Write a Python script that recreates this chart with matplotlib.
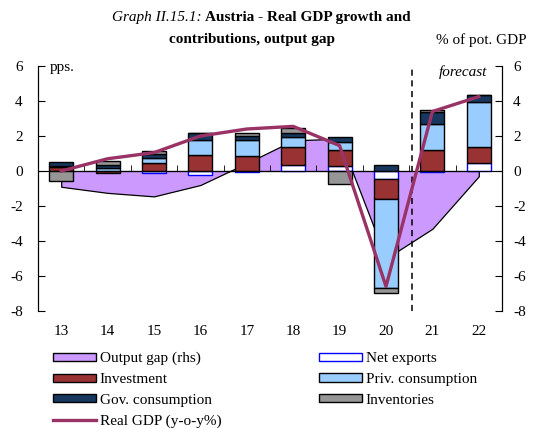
import numpy as np
import matplotlib
matplotlib.use('Agg')
import matplotlib.pyplot as plt
from matplotlib.patches import Patch
from matplotlib.lines import Line2D

plt.rcParams['font.family'] = ['Liberation Serif', 'DejaVu Serif']
plt.rcParams['axes.unicode_minus'] = False

# ============================================================
# data
# ============================================================
years = ['13', '14', '15', '16', '17', '18', '19', '20', '21', '22']
net_exports = [0.0, 0.0, -0.1, -0.25, -0.05, 0.35, 0.3, -0.45, -0.05, 0.47]
investment = [0.25, -0.1, 0.45, 0.9, 0.85, 1.0, 0.9, -1.15, 1.18, 0.88]
priv_cons = [0.05, 0.2, 0.3, 0.9, 0.95, 0.57, 0.47, -5.1, 1.48, 2.6]
gov_cons = [0.2, 0.15, 0.2, 0.35, 0.2, 0.25, 0.3, 0.35, 0.7, 0.42]
inventories = [-0.55, 0.25, 0.2, 0.05, 0.2, 0.3, -0.75, -0.25, 0.1, 0.0]
output_gap = [-0.9, -1.25, -1.45, -0.8, 0.45, 1.75, 1.85, -5.0, -3.3, -0.3]
real_gdp = [0.0, 0.7, 1.05, 2.0, 2.4, 2.55, 1.45, -6.6, 3.4, 4.25]

c_gap = '#CC99FF'
c_inv = '#993333'
c_gov = '#17375E'
c_priv = '#99CCFF'
c_invt = '#969696'
c_gdp = '#993366'

# ============================================================
# figure
# ============================================================
fig = plt.figure(figsize=(5.35, 4.28), dpi=100)
ax = fig.add_axes([38 / 535, 1 - 311 / 428, 464 / 535, 245 / 428])
x = np.arange(len(years))

# output gap area (rhs, same scale as lhs)
ax.fill_between(x, output_gap, 0, facecolor=c_gap, edgecolor='black',
                linewidth=0.9, zorder=1)

# stacked contributions
series = [
    (net_exports, 'white', 'blue'),
    (investment, c_inv, 'black'),
    (priv_cons, c_priv, 'black'),
    (gov_cons, c_gov, 'black'),
    (inventories, c_invt, 'black'),
]
pos = np.zeros(len(years))
neg = np.zeros(len(years))
for vals, fc, ec in series:
    vals = np.array(vals)
    bottom = np.where(vals >= 0, pos, neg)
    ax.bar(x, vals, bottom=bottom, width=0.52, color=fc, edgecolor=ec,
           linewidth=1.0, zorder=2)
    pos = pos + np.clip(vals, 0, None)
    neg = neg + np.clip(vals, None, 0)

ax.plot(x, real_gdp, color=c_gdp, linewidth=2.4, zorder=4)

# forecast separator
ax.axvline(7.55, color='black', linestyle=(0, (4, 3)), linewidth=1.1, zorder=3)

# axes styling
ax.set_xlim(-0.5, 9.5)
ax.set_ylim(-8, 6)
ax.set_yticks(range(-8, 7, 2))
ax.tick_params(axis='y', direction='in', length=5, pad=11, labelsize=11)
ax.spines['top'].set_visible(False)
ax.spines['bottom'].set_position(('data', 0))
ax.spines['bottom'].set_zorder(3)
ax.set_xticks(x)
ax.set_xticks(np.arange(-0.5, 9.6, 1), minor=True)
ax.tick_params(axis='x', which='major', length=0, labelbottom=False)
ax.tick_params(axis='x', which='minor', direction='in', length=4)

sec = ax.secondary_xaxis('bottom')
sec.set_xticks(x)
sec.set_xticklabels(years)
sec.tick_params(length=0, pad=10, labelsize=11)
sec.spines['bottom'].set_visible(False)

ax2 = ax.twinx()
ax2.set_ylim(-8, 6)
ax2.set_yticks(range(-8, 7, 2))
ax2.tick_params(axis='y', direction='in', length=5, pad=8, labelsize=11)
ax2.spines['top'].set_visible(False)
ax2.spines['bottom'].set_visible(False)

# texts
fig.text(202 / 535, 1 - 18 / 428, 'Graph II.15.1:', style='italic',
         ha='right', va='center', fontsize=11)
fig.text(205 / 535, 1 - 18 / 428, 'Austria - Real GDP growth and',
         weight='bold', ha='left', va='center', fontsize=11)
fig.text(252 / 535, 1 - 40 / 428, 'contributions, output gap',
         weight='bold', ha='center', va='center', fontsize=11)
fig.text(527 / 535, 1 - 40 / 428, '% of pot. GDP', ha='right', va='center',
         fontsize=11)
fig.text(50 / 535, 1 - 68 / 428, 'pps.', ha='left', va='center', fontsize=11)
fig.text(463 / 535, 1 - 72 / 428, 'forecast', style='italic', ha='center',
         va='center', fontsize=11)

# legend
handles = [
    Patch(facecolor=c_gap, edgecolor='black', linewidth=1.0),
    Patch(facecolor=c_inv, edgecolor='black', linewidth=1.0),
    Patch(facecolor=c_gov, edgecolor='black', linewidth=1.0),
    Line2D([], [], color=c_gdp, linewidth=2.4),
    Patch(facecolor='white', edgecolor='blue', linewidth=1.0),
    Patch(facecolor=c_priv, edgecolor='black', linewidth=1.0),
    Patch(facecolor=c_invt, edgecolor='black', linewidth=1.0),
]
labels = ['Output gap (rhs)', 'Investment', 'Gov. consumption',
          'Real GDP (y-o-y%)', 'Net exports', 'Priv. consumption',
          'Inventories']
fig.legend(handles, labels, ncol=2, loc='upper left',
           bbox_to_anchor=(53 / 535, 1 - 352 / 428), frameon=False,
           fontsize=11, handlelength=2.8, handleheight=0.45,
           handletextpad=0.25, labelspacing=0.5, columnspacing=6.4,
           borderpad=0, borderaxespad=0)

fig.savefig('out.png', dpi=100)
